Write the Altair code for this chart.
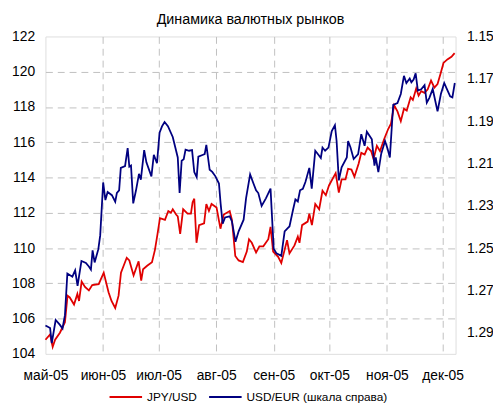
import altair as alt
import pandas as pd

TITLE = "Динамика валютных рынков"
SERIES = ["JPY/USD", "USD/EUR (шкала справа)"]
MONTHS_RU = ["янв", "фев", "мар", "апр", "май", "июн", "июл", "авг", "сен", "окт", "ноя", "дек"]

# days since 2005-05-01
jpy_days = [0, 2.5, 3.9, 5.2, 7.8, 10.5, 11.9, 13.1, 15.4, 17.2, 18.1, 19.5, 21.3, 23.4, 25.2, 28.7,
            31.4, 34.0, 35.6, 37.6, 39.4, 40.7, 43.8, 45.2, 47.5, 50.2, 51.6, 52.6, 54.8, 57.4, 59.0,
            60.4, 61.7, 64.4, 66.2, 67.6, 68.6, 70.4, 71.3, 72.6, 74.2, 76.6, 78.4, 79.3, 80.2, 81.4,
            82.8, 85.5, 86.7, 88.1, 89.5, 92.2, 94.3, 96.1, 99.3, 100.5, 102.3, 104.1, 106.4, 108.5,
            109.7, 111.2, 113.5, 115.3, 117.4, 120.1, 121.3, 122.7, 125.4, 127.1, 130.2, 131.5, 134.2,
            136.0, 136.9, 138.3, 141.3, 142.2, 143.6, 145.4, 147.5, 149.3, 151.1, 152.8, 156.4, 158.1,
            159.6, 161.7, 163.1, 164.9, 166.5, 168.8, 170.2, 172.0, 173.6, 175.5, 176.8, 178.6, 180.3,
            182.6, 184.7, 186.2, 187.9, 189.7, 191.5, 193.2, 194.7, 196.8, 198.0, 199.8, 201.1, 202.5,
            204.3, 206.0, 207.8, 209.6, 211.3, 213.1, 214.5, 216.6, 218.8, 220.5]
jpy_vals = [104.8, 105.1, 104.4, 104.8, 105.2, 105.8, 107.3, 107.2, 106.8, 107.4, 107.0, 108.1, 107.8,
            107.6, 107.9, 107.95, 108.6, 107.5, 107.0, 106.6, 107.3, 108.6, 109.45, 109.3, 108.45,
            109.25, 108.15, 108.8, 109.0, 109.2, 109.9, 110.8, 111.7, 111.6, 112.1, 112.0, 112.2, 111.9,
            111.8, 110.8, 112.2, 111.95, 111.95, 112.6, 112.8, 110.3, 111.3, 111.4, 112.5, 112.1, 112.5,
            112.3, 111.1, 111.9, 112.1, 111.6, 109.55, 109.3, 109.2, 109.8, 110.5, 110.3, 109.75, 110.1,
            110.1, 110.5, 111.2, 109.8, 109.5, 109.15, 110.45, 109.7, 110.15, 110.65, 110.3, 111.3,
            111.5, 111.95, 111.3, 112.5, 112.2, 113.25, 113.0, 113.55, 114.25, 113.15, 113.9, 113.9,
            114.5, 114.45, 114.05, 114.8, 115.4, 115.3, 115.7, 115.5, 115.05, 115.8, 115.5, 116.2,
            116.75, 117.05, 118.1, 117.75, 117.2, 117.9, 117.8, 118.55, 118.4, 119.05, 118.65, 118.9,
            118.8, 119.0, 119.5, 119.1, 119.3, 119.95, 120.5, 120.7, 120.85, 121.05]

eur_days = [0, 2.5, 3.4, 5.5, 7.8, 9.2, 10.5, 11.8, 14.5, 16.0, 17.3, 19.4, 21.8, 23.4, 24.5, 25.4,
            26.5, 28.5, 29.5, 31.1, 32.3, 33.5, 35.8, 37.6, 38.5, 39.7, 40.6, 42.9, 44.3, 45.2, 46.1,
            47.3, 48.8, 50.4, 51.4, 53.2, 54.4, 57.1, 58.4, 60.1, 61.5, 62.8, 64.2, 66.0, 68.6, 71.3,
            72.3, 73.4, 74.5, 75.5, 77.4, 79.0, 80.2, 81.5, 82.4, 84.6, 85.8, 86.7, 88.5, 89.9, 91.6,
            93.5, 94.4, 95.5, 96.8, 99.3, 100.5, 102.4, 104.1, 106.8, 108.1, 110.3, 112.1, 113.5, 114.7,
            116.5, 118.8, 121.3, 123.0, 124.5, 127.1, 128.9, 130.7, 131.5, 133.4, 134.7, 136.0, 137.2,
            138.7, 140.1, 142.2, 143.5, 145.4, 147.2, 148.4, 149.3, 150.7, 152.5, 154.3, 156.0, 156.9,
            158.1, 159.6, 162.4, 163.1, 164.4, 166.1, 168.5, 170.2, 172.0, 173.2, 175.9, 177.3, 178.0,
            179.4, 180.9, 183.0, 184.4, 185.6, 187.4, 189.7, 191.5, 193.2, 194.5, 196.3, 197.2, 198.4,
            199.5, 200.7, 202.5, 204.3, 205.5, 206.9, 208.7, 211.3, 213.1, 214.9, 216.3, 218.1, 219.3,
            220.6]
eur_vals = [1.2866, 1.2878, 1.2949, 1.2840, 1.2863, 1.2880, 1.2817, 1.2620, 1.2635, 1.2605, 1.2678,
            1.2561, 1.2570, 1.2587, 1.2602, 1.2511, 1.2568, 1.2505, 1.2440, 1.2190, 1.2273, 1.2235,
            1.2250, 1.2281, 1.2239, 1.2227, 1.2121, 1.2113, 1.2028, 1.2115, 1.2110, 1.2289, 1.2227,
            1.2149, 1.2177, 1.2037, 1.2095, 1.2161, 1.2059, 1.2099, 1.1955, 1.1925, 1.1904, 1.1924,
            1.1975, 1.2072, 1.2240, 1.2087, 1.2080, 1.2035, 1.2040, 1.2037, 1.2141, 1.2165, 1.2068,
            1.2060, 1.2056, 1.2012, 1.2130, 1.2140, 1.2161, 1.2195, 1.2290, 1.2385, 1.2355, 1.2350,
            1.2374, 1.2470, 1.2421, 1.2366, 1.2265, 1.2152, 1.2195, 1.2227, 1.2240, 1.2301, 1.2265,
            1.2219, 1.2503, 1.2525, 1.2537, 1.2421, 1.2405, 1.2398, 1.2320, 1.2270, 1.2280, 1.2227,
            1.2220, 1.2188, 1.2121, 1.2219, 1.2040, 1.2060, 1.2074, 1.2025, 1.2040, 1.2025, 1.1947,
            1.1919, 1.1994, 1.2180, 1.2118, 1.2072, 1.1994, 1.2025, 1.2079, 1.2056, 1.1962, 1.2017,
            1.1950, 1.1986, 1.2110, 1.2072, 1.2141, 1.2056, 1.1994, 1.2032, 1.2072, 1.1823, 1.1815,
            1.1772, 1.1686, 1.1720, 1.1699, 1.1717, 1.1704, 1.1674, 1.1756, 1.1750, 1.1730, 1.1813,
            1.1790, 1.1748, 1.1854, 1.1772, 1.1720, 1.1748, 1.1783, 1.1788, 1.1720]

left_ticks = [104, 106, 108, 110, 112, 114, 116, 118, 120, 122]
right_ticks = [1.15, 1.17, 1.19, 1.21, 1.23, 1.25, 1.27, 1.29]

base = pd.Timestamp("2005-05-01")
jpy = pd.DataFrame({"date": [base + pd.Timedelta(days=d) for d in jpy_days],
                    "value": jpy_vals, "series": SERIES[0]})
eur = pd.DataFrame({"date": [base + pd.Timedelta(days=d) for d in eur_days],
                    "value": eur_vals, "series": SERIES[1]})

FONT = "Liberation Sans"
month_vals = [alt.DateTime(year=2005, month=m, date=1) for m in range(5, 13)]
label_expr = ("['" + "','".join(MONTHS_RU) + "'][month(datum.value)] + '-' + timeFormat(datum.value, '%y')")

x = alt.X("date:T",
          scale=alt.Scale(domain=[alt.DateTime(year=2005, month=5, date=1),
                                  alt.DateTime(year=2005, month=12, date=8)]),
          axis=alt.Axis(values=month_vals, labelExpr=label_expr, title=None, ticks=False,
                        domain=False, grid=True, gridColor="#c0c0c0", gridDash=[7, 5],
                        gridOpacity=alt.condition("month(datum.value) == 4", alt.value(0), alt.value(1)),
                        labelFontSize=14, labelFont=FONT, labelColor="#000",
                        labelPadding=15, labelFlush=False))

color = alt.Color("series:N",
                  scale=alt.Scale(domain=SERIES, range=["#e00000", "#000080"]),
                  legend=alt.Legend(orient="none", legendX=64, legendY=348, direction="horizontal",
                                    title=None, symbolType="stroke", symbolSize=1089,
                                    symbolStrokeWidth=2, labelFontSize=12, labelFont=FONT,
                                    labelColor="#000", labelOffset=4, columnPadding=8, padding=0))

red = alt.Chart(jpy).mark_line(strokeWidth=1.8).encode(
    x=x,
    y=alt.Y("value:Q",
            scale=alt.Scale(domain=[104, 122], nice=False, zero=False),
            axis=alt.Axis(values=left_ticks, title=None, ticks=False, domain=False, grid=True,
                          gridColor="#c0c0c0", gridDash=[7, 5],
                          gridOpacity=alt.condition("datum.value == 104 || datum.value == 122",
                                                    alt.value(0), alt.value(1)),
                          labelFontSize=14, labelFont=FONT, labelColor="#000", labelPadding=11)),
    color=color,
)

blue = alt.Chart(eur).mark_line(strokeWidth=1.8).encode(
    x=x,
    y=alt.Y("value:Q",
            scale=alt.Scale(domain=[1.15, 1.30], reverse=True, nice=False, zero=False),
            axis=alt.Axis(orient="right", values=right_ticks, format=".2f", title=None, ticks=False,
                          domain=False, grid=False, labelFontSize=14, labelFont=FONT,
                          labelColor="#000", labelPadding=11)),
    color=color,
)

chart = alt.layer(red, blue).resolve_scale(y="independent").properties(
    width=416, height=322,
    title=alt.TitleParams(TITLE, fontSize=14.5, fontWeight="normal", font=FONT, color="#000",
                          anchor="middle", offset=2),
    padding={"left": 38, "top": 26, "right": 38, "bottom": 50},
    autosize=alt.AutoSizeParams(type="none"),
).configure_view(stroke="#000", strokeWidth=1).configure(background="#ffffff")

chart.save("out.html", embed_options={"renderer": "svg", "actions": False})
